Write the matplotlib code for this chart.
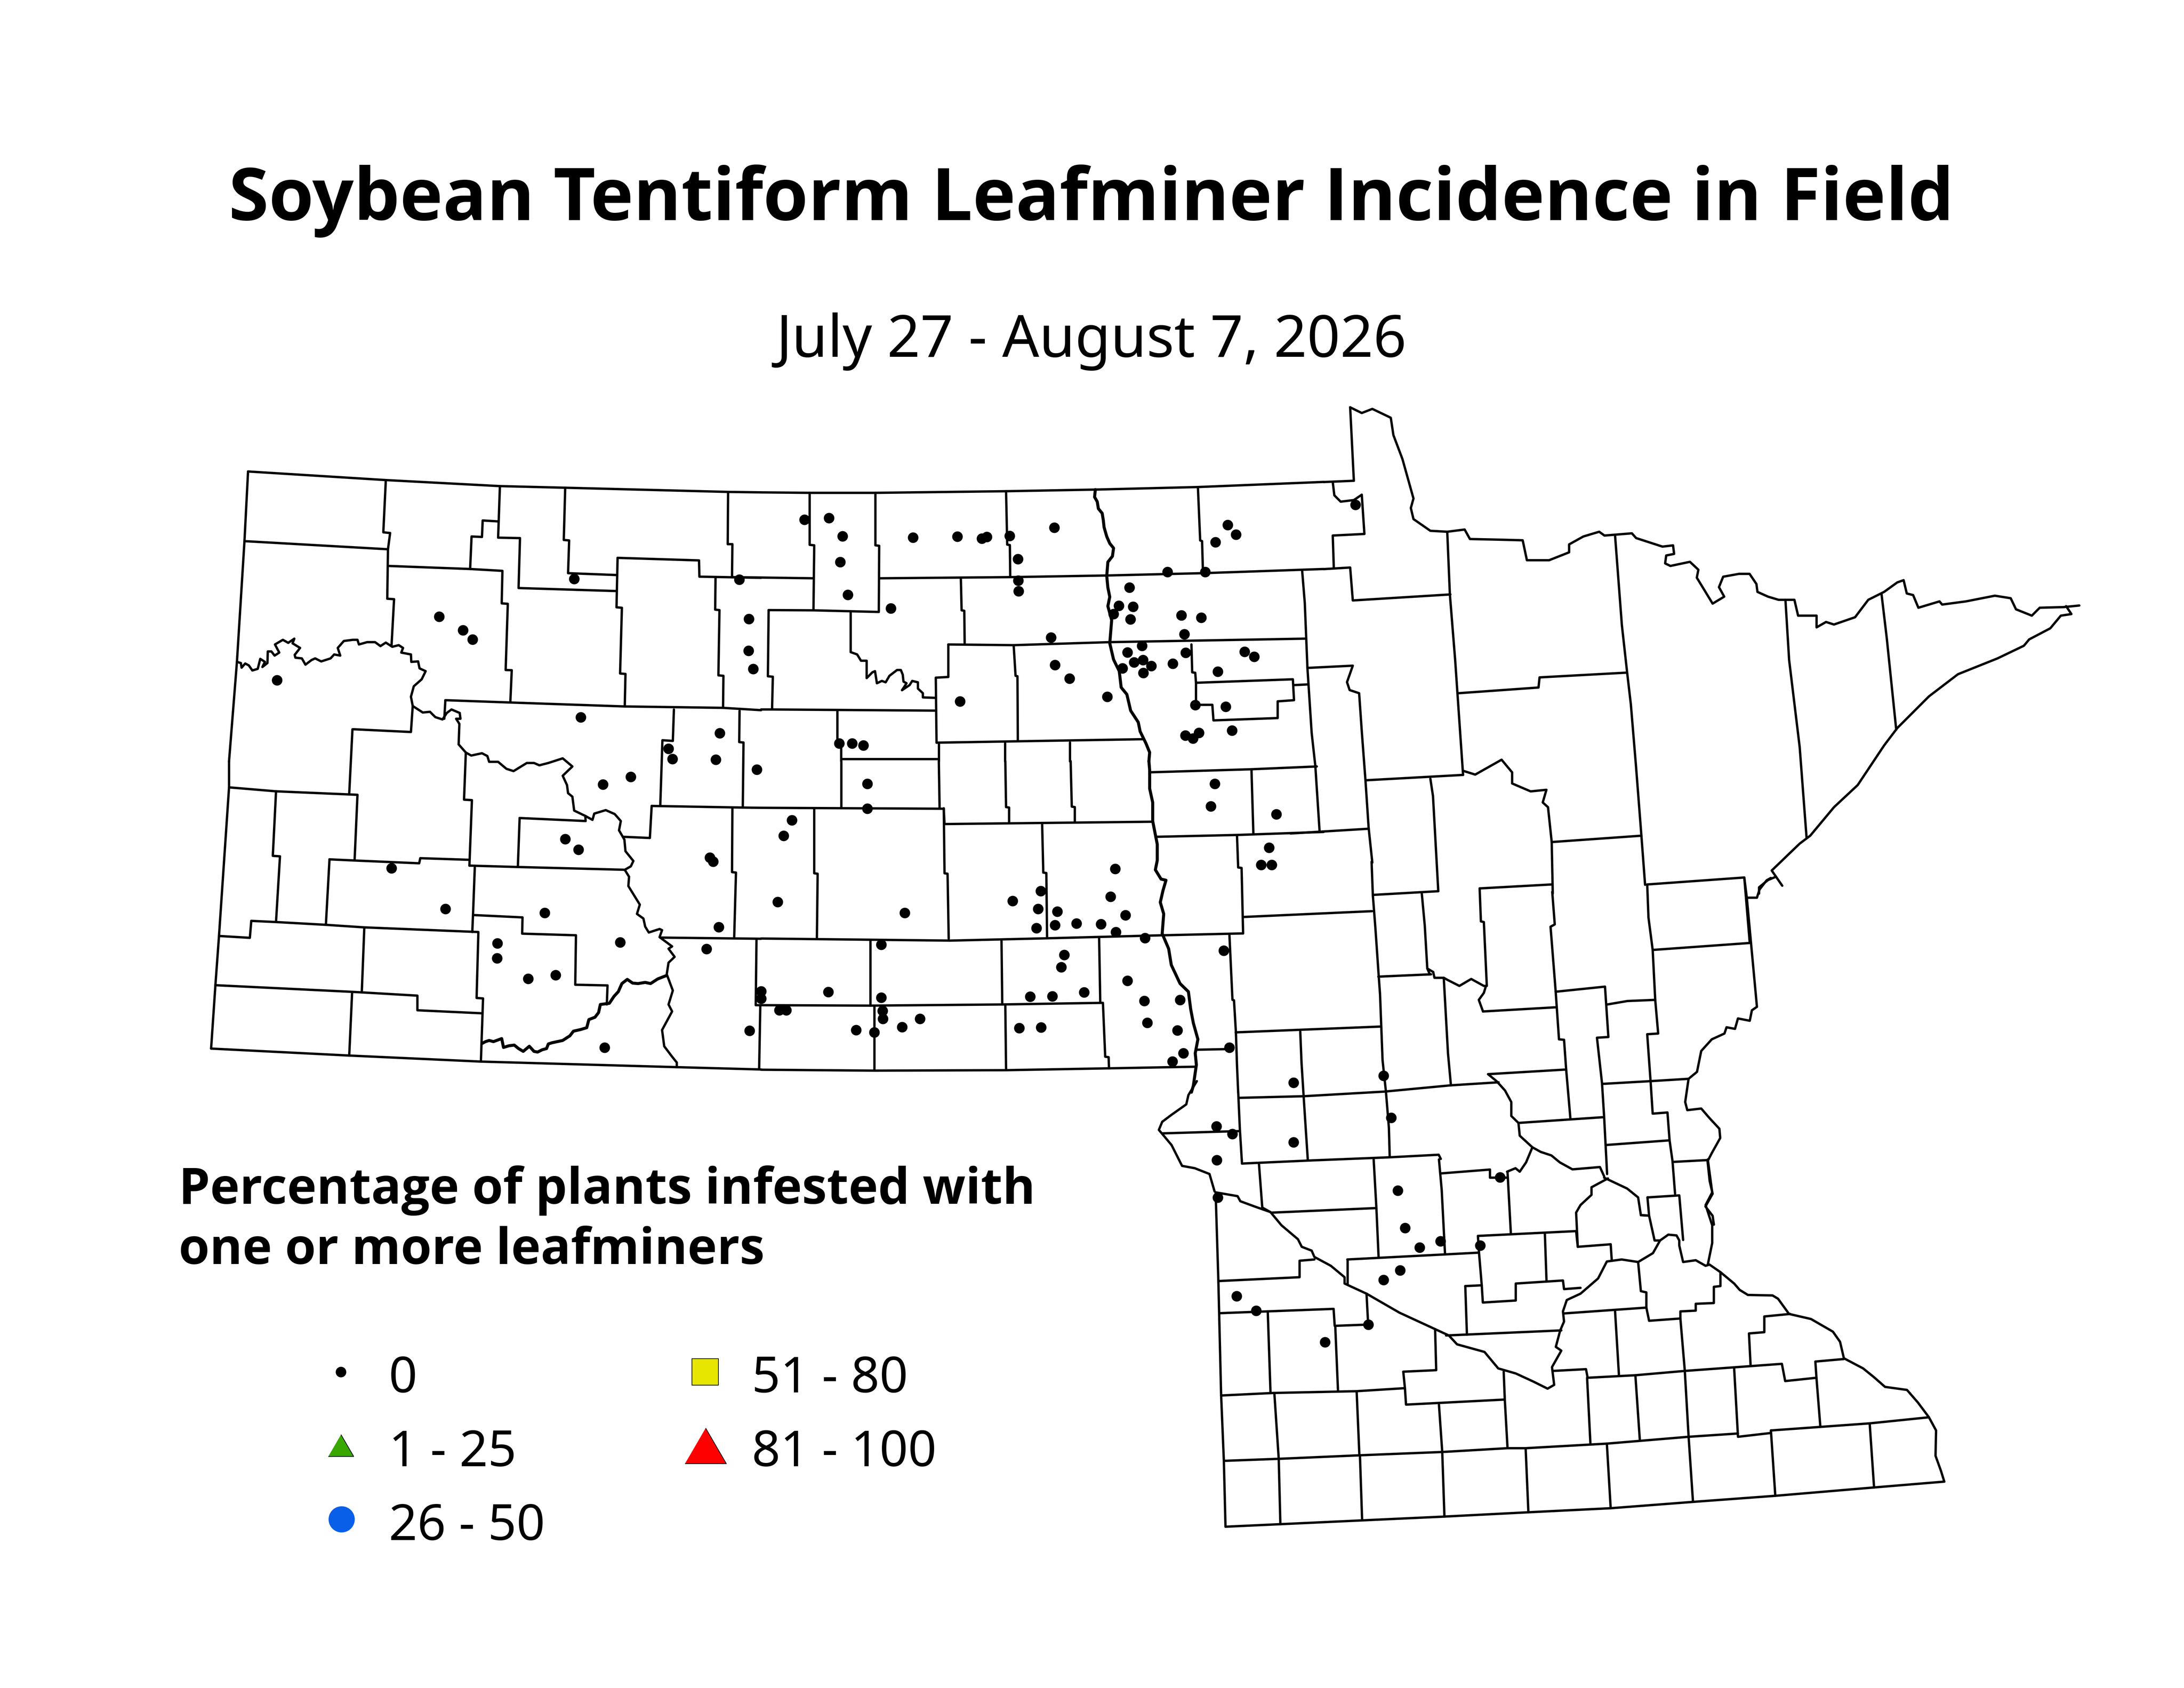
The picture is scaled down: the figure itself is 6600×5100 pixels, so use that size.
import matplotlib
matplotlib.use("Agg")
import matplotlib.pyplot as plt

plt.rcParams['font.family'] = ['Noto Sans', 'DejaVu Sans']

# map traced in pieces, each piece has its own window on the 6600x5100 sheet: x0, y0, w, h
NW = (600, 1200, 1700, 1100)
NC = (2200, 1200, 1800, 1100)
SW = (600, 2200, 1700, 1100)
SC = (2200, 2200, 1800, 1100)
NE = (3900, 1200, 2500, 1500)
MID = (3400, 2600, 2000, 1100)
SE = (3400, 3503, 2600, 1200)

nw_lines = [
    [(138,320),(522,357),(840,383),(1022,390),(1476,408),(1568,410)],
    [(138,320),(128,620),(107,1140),(85,1568)],
    [(128,620),(528,655)],
    [(522,357),(515,582),(534,585),(528,655),(526,868),(545,870),(538,1068)],
    [(532,727),(757,740),(847,748),(845,888),(862,890),(856,1175),(873,1176),(869,1315)],
    [(757,740),(761,600),(790,602),(792,531),(835,535)],
    [(840,383),(835,605),(896,607),(892,822),(1165,835)],
    [(1022,390),(1018,615),(1033,617),(1030,758),(1165,766)],
    [(1168,692),(1395,703),(1396,773),(1568,778)],
    [(1168,692),(1165,905),(1180,907),(1175,1190),(1190,1192),(1188,1332)],
    [(1476,408),(1475,633),(1488,633),(1487,772)],
    [(1441,778),(1440,915),(1452,917),(1449,1198),(1463,1200),(1462,1338)],
    [(107,1140),(118,1145),(120,1165),(130,1147),(140,1155),(150,1177),(165,1170),(172,1127),(185,1140),(178,1162),
     (192,1145),(193,1095),(203,1095),(212,1113),(225,1100),(213,1065),(235,1045),(250,1058),(267,1040),(262,1060),
     (283,1080),(268,1110),(270,1122),(288,1125),(298,1152),(315,1132),(325,1125),(342,1138),(368,1125),(378,1108),
     (395,1113),(388,1080),(405,1050),(430,1045),(443,1045),(447,1065),(470,1055),(492,1055),(507,1072),(522,1057),
     (540,1075),(558,1068),(570,1080),(565,1100),(592,1108),(593,1140),(612,1138),(616,1168),(633,1180),(622,1215),
     (600,1245),(592,1290),(597,1330),(625,1358),(645,1355),(660,1378),(680,1388),(692,1360),(705,1345),(728,1360),
     (730,1385),(718,1385),(727,1407),(725,1495)],
    [(597,1330),(592,1442),(430,1430)],
    [(688,1305),(869,1315),(1188,1332),(1462,1338),(1568,1348)],
    [(688,1305),(685,1385)],
]

sw_lines = [
    [(85,142),(85,255),(57,895),(47,1107),(35,1380)],
    [(35,1380),(420,1410),(787,1436),(1333,1460),(1568,1470)],
    [(429,5),(420,282)],
    [(85,255),(216,272),(443,287),(435,567)],
    [(216,272),(207,550),(227,552),(216,833)],
    [(365,565),(435,570),(615,582),(618,560),(755,567)],
    [(365,565),(355,845)],
    [(147,830),(216,835),(355,847),(462,858),(780,878),(775,1162),(793,1164),(787,1436)],
    [(57,895),(143,903),(147,830)],
    [(462,860),(455,1138)],
    [(47,1107),(420,1135),(455,1138),(610,1152),(610,1215),(790,1228)],
    [(428,1140),(420,1410)],
    [(755,592),(890,598),(1190,610)],
    [(770,600),(765,805),(763,878)],
    [(768,805),(903,815),(902,885),(1052,892),(1050,1105),(1140,1108),(1138,1190)],
    [(895,387),(1079,400),(1078,378)],
    [(895,387),(890,598)],
    [(725,70),(745,105),(760,118),(790,108),(805,120),(810,145),(835,145),(858,175),(878,185),(915,150),(935,150),
     (950,160),(975,150),(1015,130),(1042,165),(1015,205),(1027,245),(1030,280),(1042,295),(1047,355),(1078,378),
     (1098,395),(1103,368),(1135,353),(1160,370),(1177,400),(1172,440),(1187,480),(1190,530),(1212,572),(1205,595),
     (1188,610),(1200,640),(1198,680),(1222,740),(1230,760),(1222,800),(1240,820),(1245,855),(1255,880),(1285,865),
     (1292,870),(1285,900),(1320,940),(1310,950),(1327,985),(1310,1010),(1305,1060),(1322,1130),(1310,1190),
     (1320,1220),(1292,1300),(1298,1370),(1320,1415),(1333,1440),(1333,1460)],
    [(1263,335),(1517,342),(1568,343)],
    [(1263,335),(1258,473),(1185,468)],
    [(1488,345),(1487,620),(1498,622),(1493,903)],
    [(1290,902),(1568,907)],
    [(1325,-80),(1322,55),(1293,52),(1287,332)],
    [(1508,-75),(1507,60),(1519,62),(1517,338)],
    [(745,105),(740,308),(762,310),(755,592)],
]

# rougher water lines get a heavier stroke
sw_rough = [
    [(790,1358),(800,1350),(810,1345),(822,1350),(845,1337),(850,1375),(865,1368),(880,1365),(892,1380),(905,1392),
     (922,1370),(935,1392),(945,1395),(958,1385),(970,1380),(975,1360),(985,1355),(1015,1345),(1035,1325),(1045,1305),
     (1065,1298),(1082,1290),(1088,1255),(1105,1245),(1115,1225),(1120,1190),(1145,1185),(1158,1155),(1170,1135),
     (1180,1100),(1195,1082),(1210,1098),(1225,1100),(1245,1095),(1260,1100),(1280,1080),(1305,1065)],
]

nc_lines = [
    [(87,410),(215,412),(388,412),(732,405),(967,398),(1237,387),(1568,365)],
    [(215,412),(215,636),(227,638),(225,915)],
    [(388,412),(388,638),(398,640),(397,922)],
    [(732,405),(735,635),(742,637),(743,773)],
    [(9,775),(225,780)],
    [(400,780),(743,775),(995,768),(1250,758),(1568,740)],
    [(613,782),(615,918),(622,920),(623,1060)],
    [(107,917),(225,918),(397,925)],
    [(107,917),(105,1202),(118,1204),(116,1345)],
    [(323,925),(323,1098),(340,1108),(350,1135),(365,1135),(365,1210),(380,1185),(387,1180),(392,1232),(405,1222),
     (415,1228),(425,1200),(445,1175),(455,1175),(460,1195),(462,1225),(470,1232),(465,1245),(458,1262),(478,1240),
     (485,1222),(500,1228),(500,1255),(513,1275),(513,1293),(547,1295)],
    [(580,1065),(580,1205),(547,1208),(549,1488)],
    [(580,1065),(752,1068),(1005,1055),(1518,1040)],
    [(752,1068),(757,1200),(762,1202),(763,1482)],
    [(549,1488),(763,1482),(1093,1473)],
    [(87,1345),(116,1345),(547,1350)],
    [(288,1352),(288,1490),(298,1510),(298,1568)],
    [(555,1490),(555,1568)],
    [(729,1490),(729,1568)],
    [(900,1487),(900,1568)],
    [(1237,387),(1243,617),(1248,620),(1250,735)],
    [(1220,1065),(1222,1185),(1230,1187),(1232,1230),(1487,1215),(1490,1305),(1447,1310),(1447,1382),(1278,1392),
     (1275,1325),(1232,1325),(1232,1230)],
    [(1490,1240),(1527,1237)],
]

nc_rough = [
    [(967,398),(965,430),(972,450),(975,480),(985,500),(988,530),(990,560),(997,600),(1005,630),(1015,650),(1012,685),
     (1000,710),(997,770),(1000,820),(1005,860),(1000,900),(1010,960),(1005,1060),(1015,1130),(1030,1180),(1035,1250),
     (1050,1280),(1060,1350),(1080,1400),(1085,1440),(1100,1490),(1110,1530),(1108,1568)],
]

sc_lines = [
    [(298,142),(298,340)],
    [(300,132),(553,132)],
    [(555,142),(557,342)],
    [(730,142),(732,340),(740,342),(740,410)],
    [(902,142),(905,338),(913,340),(913,405)],
    [(87,343),(568,347),(570,413),(1115,403)],
    [(568,345),(570,625),(578,627),(581,907)],
    [(227,350),(227,625),(236,627),(234,908)],
    [(87,906),(585,915),(840,905),(1145,892),(1356,884)],
    [(827,415),(830,622),(838,624),(840,905)],
    [(1113,190),(1378,177),(1550,165)],
    [(1378,177),(1383,453)],
    [(1125,468),(1340,460),(1568,447)],
    [(1340,465),(1343,600),(1352,602),(1356,884)],
    [(75,912),(73,1193),(375,1195),(720,1190),(987,1183),(993,1415),(1002,1417),(1003,1465)],
    [(375,915),(375,1195)],
    [(720,915),(722,1190)],
    [(977,905),(980,1183)],
    [(85,1197),(82,1468)],
    [(385,1197),(385,1470)],
    [(730,1193),(732,1470)],
    [(87,1471),(385,1475),(732,1473),(1003,1465),(1233,1458)],
    [(1320,892),(1328,1170),(1332,1172),(1337,1308),(1340,1455),(1343,1568)],
    [(1232,1385),(1320,1382)],
]

sc_rough = [
    [(1108,142),(1110,180),(1110,260),(1118,320),(1118,400),(1130,500),(1130,570),(1125,610),(1140,650),(1153,655),
     (1145,700),(1138,750),(1147,800),(1143,885),(1160,950),(1167,1020),(1190,1100),(1212,1135),(1218,1210),(1225,1270),
     (1237,1340),(1230,1400),(1233,1450),(1225,1540),(1220,1568)],
]

mid_lines = [
    [(170,950),(150,1010),(145,1050),(110,1095),(88,1125),(80,1160),(110,1225),(135,1315),(165,1325),(200,1350),
     (212,1425)],
    [(281,243),(585,218)],
    [(268,998),(272,1160),(277,1305)],
    [(88,1175),(272,1165)],
    [(262,740),(605,715)],
    [(415,737),(418,870),(423,1015),(428,1155),(433,1292)],
    [(270,1022),(423,1015),(615,995),(772,968),(885,955)],
    [(584,5),(587,150),(593,290),(601,500),(604,575),(610,860),(618,995),(625,1150),(627,1278)],
    [(587,148),(742,132)],
    [(703,143),(710,280),(716,465),(722,490)],
    [(600,500),(725,490)],
    [(716,465),(730,480),(733,505),(755,505),(765,515),(792,540),(820,510),(850,540),(855,540),(850,570),(838,600),
     (848,650)],
    [(755,505),(765,830),(772,968)],
    [(840,120),(1010,103)],
    [(840,120),(843,262),(850,265),(857,540)],
    [(848,650),(1020,632)],
    [(1012,135),(1018,275),(1008,285),(1020,560),(1028,770),(1040,772),(1045,900),(1055,1110)],
    [(1020,565),(1137,543),(1145,760),(1118,763),(1130,960),(1135,1105),(1142,1350)],
    [(1237,103),(1240,245),(1250,385),(1256,600),(1263,745),(1237,748),(1245,950),(1250,1090),(1285,1085),(1290,1205),
     (1297,1295),(1303,1435)],
    [(1237,103),(1467,73),(1480,355),(1250,385)],
    [(1467,73),(1473,160),(1497,630),(1485,645),(1480,690),(1452,680),(1445,725),(1425,718),(1420,745),(1390,770),
     (1365,820),(1355,910),(1335,940),(1327,1040),(1332,1075),(1365,1068),(1385,1110),(1408,1155),(1410,1195),
     (1390,1260),(1380,1295),(1385,1380),(1392,1435),(1375,1490),(1392,1530),(1395,1568)],
    [(1142,620),(1190,605),(1256,600)],
    [(1130,962),(1245,950),(1335,940)],
    [(1473,160),(1497,160),(1503,125),(1520,85),(1530,75)],
    [(860,920),(1045,900)],
    [(860,920),(880,950),(900,990),(915,1040),(915,1100),(932,1130)],
    [(932,1130),(1135,1105)],
    [(932,1130),(935,1185),(965,1235),(985,1255),(1010,1270),(1030,1300),(1060,1330),(1125,1320),(1135,1360)],
    [(965,1235),(950,1300),(935,1340),(925,1325),(905,1340)],
    [(1140,1225),(1290,1205)],
    [(1297,1298),(1380,1290)],
    [(277,1305),(435,1292),(627,1278),(743,1267),(748,1285)],
]

se_lines = [
    [(165,130),(170,480),(175,930),(180,1190),(183,1450)],
    [(183,1450),(283,1440),(432,1425),(582,1410),(735,1393),(885,1377),(1035,1352),(1185,1328),(1365,1295),(1493,1272)],
    [(180,1190),(280,1182),(428,1168),(578,1155),(697,1140),(730,1140),(878,1122),(1027,1095),(1117,1082)],
    [(1110,825),(1117,1095),(1177,1080),(1177,1070),(1357,1042),(1465,1018)],
    [(1493,1272),(1487,1230),(1477,1170),(1478,1070),(1465,1018),(1445,960),(1425,910),(1385,898),(1365,860),(1345,825),
     (1310,785),(1303,720),(1290,680),(1250,630),(1210,610),(1190,550),(1180,537),(1135,535),(1120,515),(1110,490),
     (1085,445),(1065,415),(1058,420),(1040,398),(1017,405),(1010,340),(1010,320),(1005,300),(990,297),(975,320),
     (962,370),(935,405),(905,395),(878,403),(862,470),(830,530),(805,555),(798,600),(800,640),(793,675),(785,740),
     (795,755),(778,820),(782,890),(770,905),(745,878),(712,845),(680,825),(655,760),(605,730),(590,695),(565,670),
     (500,605),(440,530),(400,490),(400,465),(375,420),(345,385),(340,360),(322,345),(315,315),(285,260),(265,208),
     (235,185),(210,165),(205,145),(165,130)],
    [(172,480),(318,465),(318,400),(345,395)],
    [(173,607),(380,590),(382,657),(443,652),(440,530)],
    [(260,600),(265,920)],
    [(383,657),(388,912)],
    [(175,932),(270,922),(422,915),(510,903)],
    [(507,838),(567,832),(565,670)],
    [(507,838),(510,903),(512,968),(692,948)],
    [(585,695),(795,675)],
    [(620,500),(650,497)],
    [(620,500),(623,692)],
    [(405,395),(645,368),(643,302),(822,283)],
    [(405,395),(405,490)],
    [(645,368),(650,497),(652,565),(712,557),(712,490),(798,478),(800,512),(830,507)],
    [(765,290),(768,478)],
    [(822,283),(825,345),(885,335),(887,400)],
    [(800,608),(950,585),(955,637),(1012,628),(1012,600),(1040,597),(1040,570),(1073,567),(1073,503),(1085,500),(1085,445)],
    [(893,600),(900,850)],
    [(1012,628),(1020,832),(1027,1095),(1035,1352)],
    [(780,835),(840,828),(843,862),(930,852),(1020,835),(1197,807),(1203,875),(1260,862),(1258,798),(1310,788)],
    [(690,838),(692,948),(697,1140)],
    [(930,852),(938,1105)],
    [(842,862),(848,1120)],
    [(1140,815),(1137,687),(1165,682),(1165,620),(1212,610)],
    [(1260,862),(1267,1052)],
    [(1177,1070),(1185,1328)],
    [(1357,1042),(1365,1295)],
    [(422,915),(427,1168)],
    [(272,922),(280,1182)],
    [(572,968),(578,1155),(582,1410)],
    [(730,1140),(735,1393)],
    [(878,1122),(885,1377)],
    [(280,1182),(283,1440)],
    [(428,1168),(432,1425)],
    [(952,150),(1010,142),(1017,318)],
    [(952,150),(955,222),(940,220)],
    [(880,75),(850,110),(850,140),(830,180),(822,210),(825,345)],
    [(873,72),(915,115),(935,150),(940,220),(955,222),(965,320),(975,320)],
    [(935,405),(940,520),(950,525),(950,585)],
    [(1062,0),(1070,130),(1058,180),(1070,260),(1070,330),(1062,415)],
    [(244,18),(250,190),(265,208)],
    [(268,210),(458,192)],
    [(453,0),(458,192),(462,385)],
    [(572,0),(577,120),(583,370)],
    [(577,55),(665,40),(665,72),(697,72)],
    [(697,50),(703,290)],
]

ne_lines = [
    [(63,268),(120,264)],
    [(113,32),(120,264)],
    [(113,32),(135,50),(155,37),(190,65),(195,120),(212,195),(233,320),(228,350),(233,385),(265,422),(297,425),(330,418),
     (340,448),(395,450),(440,452),(448,515),(490,515),(528,490),(528,465),(555,440),(585,425),(595,437),(647,430),
     (655,445),(705,472),(725,468),(727,495),(712,500),(710,525),(720,533),(757,520),(773,545),(770,570),(800,652),
     (822,630),(812,600),(820,567),(850,558),(870,558),(883,590),(885,615),(905,630),(925,640),(955,640),(962,690),
     (997,690),(997,727),(1015,710),(1030,718),(1070,695),(1095,640),(1125,615),(1150,585),(1162,578),(1168,620),
     (1180,625),(1190,665),(1230,645),(1235,655),(1280,645),(1335,627),(1365,635),(1375,670),(1405,690),(1420,665),
     (1465,663),(1495,658)],
    [(1470,660),(1480,685),(1460,690),(1440,730),(1400,765),(1390,785),(1340,825),(1265,875),(1210,945),(1150,1045),
     (1125,1100),(1075,1225),(1030,1295),(985,1385),(965,1410),(912,1495),(932,1543)],
    [(918,1516),(905,1525),(888,1548),(888,1568)],
    [(80,268),(83,310),(95,330),(120,325),(135,308),(140,432),(80,437),(82,540)],
    [(63,543),(113,538),(118,642),(303,623)],
    [(22,548),(27,650),(32,855),(40,1060),(47,1165),(55,1370)],
    [(33,855),(118,848),(107,900),(112,925),(130,935),(135,1055),(142,1210),(148,1360),(155,1470)],
    [(297,425),(302,623),(312,830),(327,1193)],
    [(327,1193),(142,1210)],
    [(265,1205),(270,1260),(280,1560)],
    [(318,935),(470,917),(472,885),(637,870)],
    [(615,435),(628,720),(638,870),(645,970),(655,1170),(665,1385),(672,1540)],
    [(327,1180),(350,1192),(400,1145),(420,1185),(420,1220),(455,1245),(485,1240),(478,1280),(488,1295),(495,1405),(497,1568)],
    [(495,1405),(665,1385)],
    [(938,640),(945,830),(965,1105),(978,1390)],
    [(1120,620),(1130,760),(1148,1050)],
    [(0,1378),(148,1363)],
]

nw_sites = [(1047,782),(671,945),(737,1003),(764,1044),(219,1219),(1065,1378)]
sw_sites = [(1453,22),(1310,88),(1321,133),(1442,136),(1127,242),(1205,210),(1022,478),(1059,523),(538,603),(688,778),
            (1425,557),(1434,575),(965,796),(1175,922),(1416,951),(833,927),(832,990),(919,1079),(995,1064),(1450,857),
            (1132,1375)]
nc_sites = [(30,785),(55,955),(54,1092),(66,1170),(201,527),(266,520),(301,598),(295,710),(315,851),(429,910),(487,604),
            (604,600),(668,608),(681,602),(741,597),(859,562),(763,697),(764,790),(765,836),(1157,752),(1256,752),
            (1315,550),(1337,592),(1283,625),(1057,820),(1029,898),(1066,903),(1015,933),(1059,957),(1193,940),(1246,949),
            (1201,1020),(850,1035),(1090,1071),(1051,1099),(1205,1101),(1360,1096),(1385,1118),(1289,1182),(1069,1142),
            (1092,1132),(1114,1157),(1093,1187),(1171,1147),(1038,1168),(861,1153),(899,1212),(998,1290),(611,1310),
            (1230,1326),(1310,1333),(1327,1436),(1204,1457),(1240,1446),(1224,1470),(293,1491),(327,1491),(356,1500)]
sc_sites = [(76,178),(367,240),(367,346),(168,396),(146,463),(131,749),(465,795),(1281,240),(1271,336),(1443,371),
            (1424,514),(1403,588),(1431,588),(1019,606),(1007,725),(823,701),(749,744),(816,778),(867,789),(1046,806),
            (812,861),(861,848),(917,841),(982,844),(1021,878),(1098,904),(403,932),(885,976),(877,1029),(1305,958),
            (1051,1088),(937,1138),(795,1156),(854,1155),(1190,1171),(1096,1175),(87,1133),(87,1165),(264,1136),(403,1160),
            (135,1215),(153,1215),(407,1217),(408,1252),(505,1251),(458,1287),(337,1300),(385,1310),(57,1303),(767,1291),
            (824,1289),(1104,1269),(1183,1301),(1199,1400),(1170,1436),(1320,1376),(1489,1527)]
mid_sites = [(216,1145),(254,1178),(217,1290),(399,1213),(630,1108),(612,927)]
se_sites = [(683,70),(497,123),(510,270),(575,323),(537,347),(647,340),(501,438),(471,475),(203,540),(239,597),(443,652),
            (364,721),(169,150)]
ne_sites = [(123,340)]

map_lines = [(NW, nw_lines), (SW, sw_lines), (NC, nc_lines), (SC, sc_lines), (MID, mid_lines), (SE, se_lines), (NE, ne_lines)]
rough_lines = [(SW, sw_rough), (NC, nc_rough), (SC, sc_rough)]
map_sites = [(NW, nw_sites), (SW, sw_sites), (NC, nc_sites), (SC, sc_sites), (MID, mid_sites), (SE, se_sites), (NE, ne_sites)]

legend_labels = ["0", "1 - 25", "26 - 50", "51 - 80", "81 - 100"]
legend_colors = ["black", "#38a800", "#0a5fe8", "#e6e600", "#ff0000"]


def sheet_xy(tile, pts):
    # zoomed piece is 1568 square, so scale each axis back to the sheet
    x0, y0, w, h = tile
    xs = [x0 + p[0] * w / 1568 for p in pts]
    ys = [y0 + p[1] * h / 1568 for p in pts]
    return xs, ys


fig = plt.figure(figsize=(11, 8.5), dpi=600)
ax = fig.add_axes([0, 0, 1, 1])
ax.set_xlim(0, 6600)
ax.set_ylim(5100, 0)
ax.axis("off")

for tile, lines in map_lines:
    for line in lines:
        xs, ys = sheet_xy(tile, line)
        ax.plot(xs, ys, color="black", lw=0.85, solid_joinstyle="round", solid_capstyle="round", zorder=2)

for tile, lines in rough_lines:
    for line in lines:
        xs, ys = sheet_xy(tile, line)
        ax.plot(xs, ys, color="black", lw=1.1, solid_joinstyle="round", solid_capstyle="round", zorder=2)

for tile, sites in map_sites:
    xs, ys = sheet_xy(tile, sites)
    ax.scatter(xs, ys, s=14.7, color="black", linewidths=0, zorder=3)

bold_font = ['Open Sans', 'DejaVu Sans']
ax.text(3298, 665, "Soybean Tentiform Leafminer Incidence in Field", ha="center", va="baseline",
        fontsize=26.4, fontweight="bold", family=bold_font)
ax.text(3298, 1078, "July 27 - August 7, 2026", ha="center", va="baseline", fontsize=21)
ax.text(540, 3637, "Percentage of plants infested with", va="baseline", fontsize=18.15, fontweight="bold", family=bold_font)
ax.text(540, 3819, "one or more leafminers", va="baseline", fontsize=18.15, fontweight="bold", family=bold_font)

# legend: symbol grows with the class
flat_tri = [(-1, -0.86), (1, -0.86), (0, 0.86)]
ax.scatter(1030, 4145, s=14.7, marker="o", color=legend_colors[0], linewidths=0, zorder=3)
ax.scatter(1030, 4367, s=85, marker=flat_tri, color=legend_colors[1], edgecolors="black", linewidths=0.25, zorder=3)
ax.scatter(1032, 4590, s=90, marker="o", color=legend_colors[2], linewidths=0, zorder=3)
ax.scatter(2131, 4145, s=94, marker="s", color=legend_colors[3], edgecolors="black", linewidths=0.25, zorder=3)
ax.scatter(2132, 4368, s=225, marker=flat_tri, color=legend_colors[4], edgecolors="black", linewidths=0.25, zorder=3)

label_x = [1175, 1175, 1175, 2272, 2272]
label_y = [4207, 4430, 4653, 4207, 4430]
for x, y, lab in zip(label_x, label_y, legend_labels):
    ax.text(x, y, lab, va="baseline", fontsize=18.1)

fig.savefig("out.png", dpi=600, facecolor="white")
